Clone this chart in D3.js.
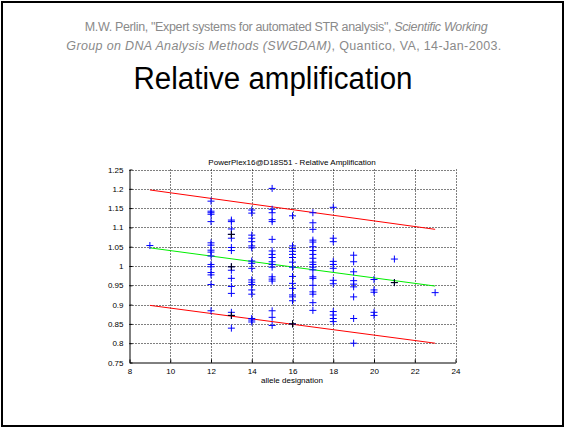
<!DOCTYPE html>
<html>
<head>
<meta charset="utf-8">
<script src="https://cdn.jsdelivr.net/npm/d3@7"></script>
<style>
  html, body { margin: 0; padding: 0; background: #fff; }
  svg { display: block; }
  text { font-family: "Liberation Sans", Arial, sans-serif; }
</style>
</head>
<body>
<svg id="chart" width="565" height="428"></svg>
<script>
// alleles and relative amplification
var blueAllele = [9,
	12,12,12,12,12,12,12,12,12,12,12,12,12,12,12,12,
	13,13,13,13,13,13,13,13,13,13,13,13,13,13,13,
	14,14,14,14,14,14,14,14,14,14,14,14,14,14,14,14,14,14,
	15,15,15,15,15,15,15,15,15,15,15,15,15,15,15,15,15,15,
	16,16,16,16,16,16,16,16,16,16,16,16,16,16,16,
	17,17,17,17,17,17,17,17,17,17,17,17,17,17,17,17,17,17,17,17,
	18,18,18,18,18,18,18,18,18,18,18,18,
	19,19,19,19,19,19,19,19,19,
	20,20,20,20,20,
	21,21,
	23];
var blueRatio = [1.053,
	1.168,1.142,1.138,1.134,1.115,1.060,1.054,1.041,1.036,1.026,1.004,0.998,0.983,0.977,0.952,0.884,
	1.119,1.115,1.096,1.082,1.072,1.048,1.040,0.998,0.989,0.968,0.947,0.929,0.880,0.872,0.839,
	1.145,1.137,1.080,1.072,1.063,1.052,1.047,1.013,1.007,0.994,0.964,0.958,0.952,0.938,0.927,0.864,0.860,0.855,
	1.201,1.147,1.138,1.120,1.115,1.069,1.039,1.030,1.022,1.011,1.004,0.997,0.972,0.966,0.961,0.884,0.867,0.846,
	1.130,1.052,1.045,1.038,1.030,1.022,1.010,0.997,0.973,0.955,0.942,0.925,0.920,0.910,0.850,
	1.138,1.112,1.095,1.067,1.062,1.050,1.040,1.030,1.020,1.010,1.004,0.997,0.990,0.972,0.968,0.950,0.933,0.927,0.905,0.885,
	1.152,1.072,1.063,1.012,1.004,0.994,0.963,0.954,0.882,0.873,0.864,0.856,
	1.028,1.011,0.985,0.962,0.953,0.946,0.920,0.864,0.800,
	0.965,0.938,0.932,0.880,0.872,
	1.018,0.957,
	0.931];
var blackAllele = [13, 13, 13, 16, 21];
var blackRatio = [1.082, 0.998, 0.872, 0.850, 0.957];

// regression line and its bounds
var fitAllele = [9, 23];
var fitMid = [1.047, 0.948];
var fitHi = [1.197, 1.095];
var fitLo = [0.898, 0.800];

var xTicks = [8, 10, 12, 14, 16, 18, 20, 22, 24];
var yTicks = [0.75, 0.8, 0.85, 0.9, 0.95, 1, 1.05, 1.1, 1.15, 1.2, 1.25];

var svg = d3.select('#chart');

// slide frame
svg.append('rect')
	.attr('x', 2).attr('y', 2).attr('width', 561).attr('height', 424)
	.attr('fill', 'none').attr('stroke', '#000').attr('stroke-width', 2);

svg.append('text')
	.attr('x', 286).attr('y', 31)
	.attr('text-anchor', 'middle').attr('fill', '#8a8a8a').attr('font-size', 12.5)
	.attr('letter-spacing', -0.35)
	.call(function (t) {
		t.append('tspan').text('M.W. Perlin, "Expert systems for automated STR analysis", ');
		t.append('tspan').attr('font-style', 'italic').text('Scientific Working');
	});
svg.append('text')
	.attr('x', 284).attr('y', 50)
	.attr('text-anchor', 'middle').attr('fill', '#8a8a8a').attr('font-size', 12.5)
	.attr('letter-spacing', 0.35)
	.call(function (t) {
		t.append('tspan').attr('font-style', 'italic').text('Group on DNA Analysis Methods (SWGDAM)');
		t.append('tspan').text(', Quantico, VA, 14-Jan-2003.');
	});
svg.append('text')
	.attr('x', 273).attr('y', 89)
	.attr('text-anchor', 'middle').attr('fill', '#000').attr('font-size', 31)
	.attr('textLength', 279).attr('lengthAdjust', 'spacingAndGlyphs')
	.text('Relative amplification');

var x = d3.scaleLinear().domain([8, 24]).range([129.5, 455.5]),
	y = d3.scaleLinear().domain([0.75, 1.25]).range([362.5, 169.5]);

var g = svg.append('g');

// dotted grid
g.selectAll('line.gx').data(xTicks.slice(1)).enter().append('line')
	.attr('x1', function (d) { return Math.round(x(d)) + 0.5; })
	.attr('x2', function (d) { return Math.round(x(d)) + 0.5; })
	.attr('y1', y(1.25)).attr('y2', y(0.75))
	.attr('stroke', '#000').attr('stroke-dasharray', '1,2');
g.selectAll('line.gy').data(yTicks.slice(1)).enter().append('line')
	.attr('y1', function (d) { return Math.round(y(d)) + 0.5; })
	.attr('y2', function (d) { return Math.round(y(d)) + 0.5; })
	.attr('x1', x(8)).attr('x2', x(24))
	.attr('stroke', '#000').attr('stroke-dasharray', '1,2');

// axes, ticks inward like matlab
var xAxis = d3.axisBottom(x).tickValues(xTicks).tickSizeInner(-3).tickSizeOuter(0).tickPadding(6);
var yAxis = d3.axisLeft(y).tickValues(yTicks).tickSizeInner(-3).tickSizeOuter(0).tickPadding(6)
	.tickFormat(function (d) { return String(+d.toFixed(2)); });

g.append('g').attr('transform', 'translate(0,' + y(0.75) + ')').call(xAxis);
g.append('g').attr('transform', 'translate(' + x(8) + ',0)').call(yAxis);
g.selectAll('.tick text').attr('font-size', 8).attr('font-family', '"Liberation Sans", Arial, sans-serif').attr('fill', '#000');
g.selectAll('.domain, .tick line').attr('stroke', '#000');

g.append('text')
	.attr('x', 292).attr('y', 165).attr('text-anchor', 'middle').attr('font-size', 8)
	.text('PowerPlex16@D18S51 - Relative Amplification');
g.append('text')
	.attr('x', 292).attr('y', 383).attr('text-anchor', 'middle').attr('font-size', 8)
	.text('allele designation');

// fit lines
var line = d3.line()
	.x(function (d) { return x(d[0]); })
	.y(function (d) { return y(d[1]); });

[[fitHi, '#ff0000'], [fitLo, '#ff0000'], [fitMid, '#00ee00']].forEach(function (f) {
	g.append('path')
		.attr('d', line(d3.zip(fitAllele, f[0])))
		.attr('fill', 'none').attr('stroke', f[1]).attr('stroke-width', 1);
});

// plus markers
var plus = 'M-3.5,0H3.5M0,-3.5V3.5';
var drawPlus = function (xs, ys, col) {
	g.append('g').selectAll('path').data(d3.zip(xs, ys)).enter().append('path')
		.attr('transform', function (d) { return 'translate(' + x(d[0]) + ',' + y(d[1]) + ')'; })
		.attr('d', plus)
		.attr('stroke', col).attr('stroke-width', 1).attr('fill', 'none');
};
drawPlus(blueAllele, blueRatio, '#0000ff');
drawPlus(blackAllele, blackRatio, '#000000');
</script>
</body>
</html>
